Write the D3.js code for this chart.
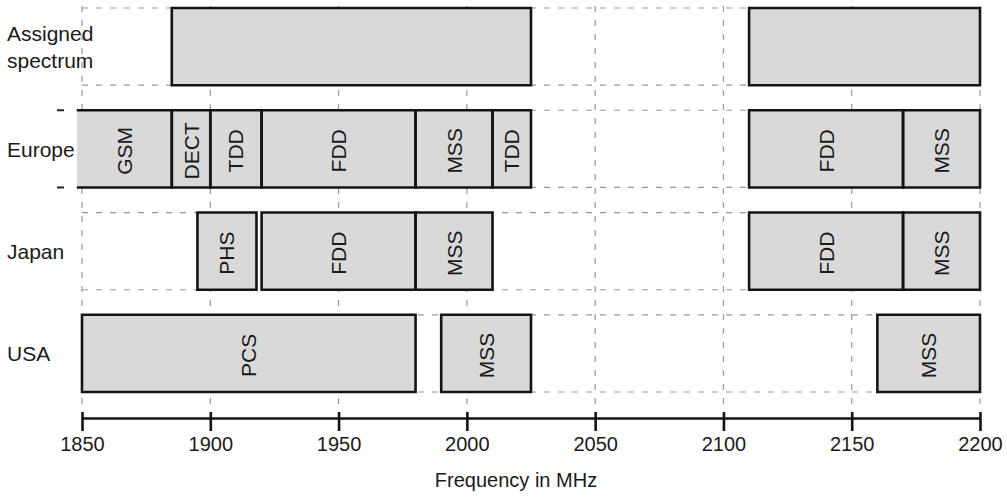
<!DOCTYPE html>
<html>
<head>
<meta charset="utf-8">
<script src="https://cdn.jsdelivr.net/npm/d3@7"></script>
<style>
  html, body { margin: 0; padding: 0; background: #fff; }
  svg { display: block; font-family: "Liberation Sans", Arial, Helvetica, sans-serif; }
</style>
</head>
<body>
<svg id="chart" width="1007" height="498"></svg>
<script>
// Frequency allocation around 2 GHz (MHz)
const rows = ["assigned", "europe", "japan", "usa"];
const rowLabels = [["Assigned", "spectrum"], ["Europe"], ["Japan"], ["USA"]];

const assignedBands = [
  { start: 1885, end: 2025, label: "" },
  { start: 2110, end: 2200, label: "" }
];
const europeBands = [
  { start: 1848, end: 1885, label: "GSM" },
  { start: 1885, end: 1900, label: "DECT" },
  { start: 1900, end: 1920, label: "TDD" },
  { start: 1920, end: 1980, label: "FDD" },
  { start: 1980, end: 2010, label: "MSS" },
  { start: 2010, end: 2025, label: "TDD" },
  { start: 2110, end: 2170, label: "FDD" },
  { start: 2170, end: 2200, label: "MSS" }
];
const japanBands = [
  { start: 1895, end: 1918, label: "PHS" },
  { start: 1920, end: 1980, label: "FDD" },
  { start: 1980, end: 2010, label: "MSS" },
  { start: 2110, end: 2170, label: "FDD" },
  { start: 2170, end: 2200, label: "MSS" }
];
const usaBands = [
  { start: 1850, end: 1980, label: "PCS" },
  { start: 1990, end: 2025, label: "MSS" },
  { start: 2160, end: 2200, label: "MSS" }
];
const xTicks = [1850, 1900, 1950, 2000, 2050, 2100, 2150, 2200];
const xTitle = "Frequency in MHz";

const bandsByRow = [assignedBands, europeBands, japanBands, usaBands];

const svg = d3.select("#chart");
const x = d3.scaleLinear().domain([1850, 2200]).range([82, 980]);
const y = d3.scaleBand().domain(rows).range([8, 392]).paddingInner(0.245).paddingOuter(0);
const [xMin] = x.domain();

const gridColor = "#9a9a9a";
const boxFill = "#d9d9d9";
const boxStroke = "#141414";
const textColor = "#1a1a1a";

// vertical dashed guides at each tick
svg.append("g").selectAll("line").data(xTicks).join("line")
  .attr("x1", d => x(d)).attr("x2", d => x(d))
  .attr("y1", 6).attr("y2", 406)
  .attr("stroke", gridColor).attr("stroke-width", 1.2)
  .attr("stroke-dasharray", "6,8");

// horizontal dashed guides at each row edge
const edges = rows.flatMap(r => [y(r), y(r) + y.bandwidth()]);
svg.append("g").selectAll("line").data(edges).join("line")
  .attr("x1", x.range()[0]).attr("x2", x.range()[1])
  .attr("y1", d => d).attr("y2", d => d)
  .attr("stroke", gridColor).attr("stroke-width", 1.2)
  .attr("stroke-dasharray", "6,8");

// short dark marks left of the Europe row
const eu = y("europe");
svg.append("g").selectAll("line").data([eu, eu + y.bandwidth()]).join("line")
  .attr("x1", 57).attr("x2", 64)
  .attr("y1", d => d).attr("y2", d => d)
  .attr("stroke", "#222").attr("stroke-width", 2);

// band boxes
rows.forEach((r, i) => {
  const g = svg.append("g");
  const y0 = y(r), h = y.bandwidth();
  const bands = bandsByRow[i];

  g.selectAll("rect.fill").data(bands).join("rect")
    .attr("class", "fill")
    .attr("x", d => x(d.start)).attr("width", d => x(d.end) - x(d.start))
    .attr("y", y0).attr("height", h)
    .attr("fill", boxFill);

  // outline; bands running past the axis start stay open on the left
  g.selectAll("path.edge").data(bands).join("path")
    .attr("class", "edge")
    .attr("d", d => {
      const x0 = x(d.start), x1 = x(d.end);
      if (d.start < xMin) {
        return `M${x0},${y0}H${x1}V${y0 + h}H${x0}`;
      }
      return `M${x0},${y0}H${x1}V${y0 + h}H${x0}Z`;
    })
    .attr("fill", "none")
    .attr("stroke", boxStroke).attr("stroke-width", 2.6)
    .attr("stroke-linejoin", "miter");

  g.selectAll("text").data(bands.filter(d => d.label)).join("text")
    .attr("transform", d => `translate(${x((d.start + d.end) / 2)},${y0 + h / 2 + 2}) rotate(-90)`)
    .attr("text-anchor", "middle")
    .attr("dominant-baseline", "central")
    .attr("font-size", 21)
    .attr("fill", textColor)
    .text(d => d.label);
});

// row labels
rows.forEach((r, i) => {
  const lines = rowLabels[i];
  const cy = y(r) + y.bandwidth() / 2;
  const lineH = 27;
  const firstBase = cy + 8 - (lines.length - 1) * lineH / 2;
  const t = svg.append("text")
    .attr("x", 7)
    .attr("font-size", 21)
    .attr("fill", textColor);
  lines.forEach((ln, k) => {
    t.append("tspan").attr("x", 7).attr("y", firstBase + k * lineH).text(ln);
  });
});

// x axis
const axisY = 418;
const axis = d3.axisBottom(x).tickValues(xTicks).tickFormat(d3.format("d")).tickSize(13).tickPadding(6).tickSizeOuter(0);
const ag = svg.append("g").attr("transform", `translate(0,${axisY})`).call(axis);
ag.select(".domain").attr("stroke", boxStroke).attr("stroke-width", 2.6);
ag.selectAll(".tick line").attr("stroke", boxStroke).attr("stroke-width", 2.6).attr("y1", -6);
ag.selectAll(".tick text").attr("font-size", 20).attr("fill", textColor)
  .attr("font-family", "'Liberation Sans', Arial, sans-serif");

svg.append("text")
  .attr("x", (x.range()[0] + x.range()[1]) / 2 - 15)
  .attr("y", 487)
  .attr("text-anchor", "middle")
  .attr("font-size", 20)
  .attr("fill", textColor)
  .text(xTitle);
</script>
</body>
</html>
